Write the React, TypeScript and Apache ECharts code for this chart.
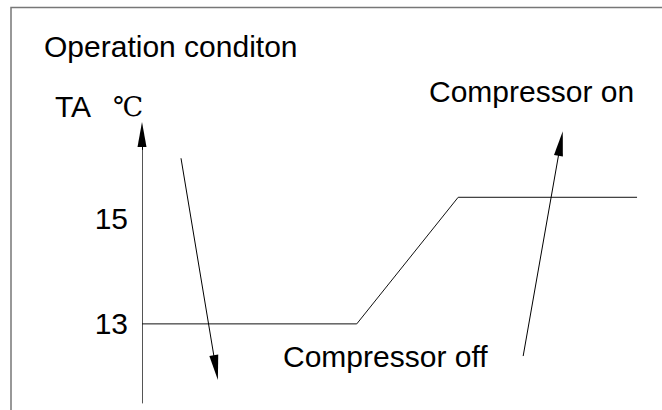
import React, { useEffect, useRef } from 'react';
import * as echarts from 'echarts';

// Temperature profile (x in arbitrary time units 0..100, TA in °C)
const profileX = [0, 41.3, 60.8, 95.2];
const profileTA = [13, 13, 15.4, 15.4];
const yTickValues = [13, 15];

// Annotation arrows: [x, TA] tail and head (head = arrowhead centre)
const arrowOffTail = [7.5, 16.14];
const arrowOffHead = [14.2, 12.17];
const arrowOnTail = [73.3, 12.39];
const arrowOnHead = [80.5, 16.42];
const axisArrowTail = [0, 16.3];
const axisArrowHead = [0, 16.59];

const texts = {
  title: 'Operation conditon',
  axisName: 'TA',
  unit: '℃',
  on: 'Compressor on',
  off: 'Compressor off',
};

const FONT = '"Liberation Sans", Arial, sans-serif';

export default function App() {
  const ref = useRef<HTMLDivElement>(null);
  useEffect(() => {
    document.body.style.margin = '0';
    if (!ref.current) return;
    const chart = echarts.init(ref.current, null, { renderer: 'svg' });
    const seriesData = profileX.map((x, i) => [x, profileTA[i]]);
    const seg = (a: number[], b: number[]) => [
      { coord: a, symbol: 'none' },
      { coord: b, symbol: 'triangle', symbolSize: [9, 25] },
    ];
    const txt = (text: string, x: number, y: number, size = 30, family = FONT) => ({
      type: 'text',
      x,
      y,
      silent: true,
      style: {
        text,
        fontSize: size,
        fontFamily: family,
        fill: '#000',
        align: 'left',
        verticalAlign: 'middle',
      },
    });
    chart.setOption({
      animation: false,
      backgroundColor: '#fff',
      grid: { left: 142, right: 0, top: 134, bottom: 7 },
      xAxis: { type: 'value', min: 0, max: 100, show: false },
      yAxis: {
        type: 'value',
        min: 11.5,
        max: 16.6,
        axisLine: { show: true, lineStyle: { color: '#555', width: 1 } },
        axisTick: { show: false },
        splitLine: { show: false },
        axisLabel: {
          customValues: yTickValues,
          fontSize: 30,
          fontFamily: FONT,
          color: '#000',
          margin: 14,
        },
      },
      series: [
        {
          type: 'line',
          data: seriesData,
          symbol: 'none',
          clip: false,
          lineStyle: { color: '#111', width: 1 },
          markLine: {
            silent: true,
            symbol: ['none', 'triangle'],
            symbolSize: [9, 25],
            label: { show: false },
            lineStyle: { color: '#000', width: 1, type: 'solid' },
            emphasis: { disabled: true },
            data: [
              seg(arrowOffTail, arrowOffHead),
              seg(arrowOnTail, arrowOnHead),
              seg(axisArrowTail, axisArrowHead),
            ],
          },
        },
      ],
      graphic: [
        {
          type: 'polyline',
          silent: true,
          shape: { points: [[11, 410], [11, 7.5], [662, 7.5]] },
          style: { stroke: '#777', lineWidth: 1.5, fill: 'none' },
        },
        txt(texts.title, 44, 46),
        txt(texts.axisName, 55, 106),
        txt(texts.unit, 113, 106, 27, '"DejaVu Serif", serif'),
        txt(texts.on, 429, 91),
        txt(texts.off, 283, 356),
      ],
    });
    return () => chart.dispose();
  }, []);
  return (
    <div
      ref={ref}
      style={{ position: 'absolute', left: 0, top: 0, width: 662, height: 410 }}
    />
  );
}
